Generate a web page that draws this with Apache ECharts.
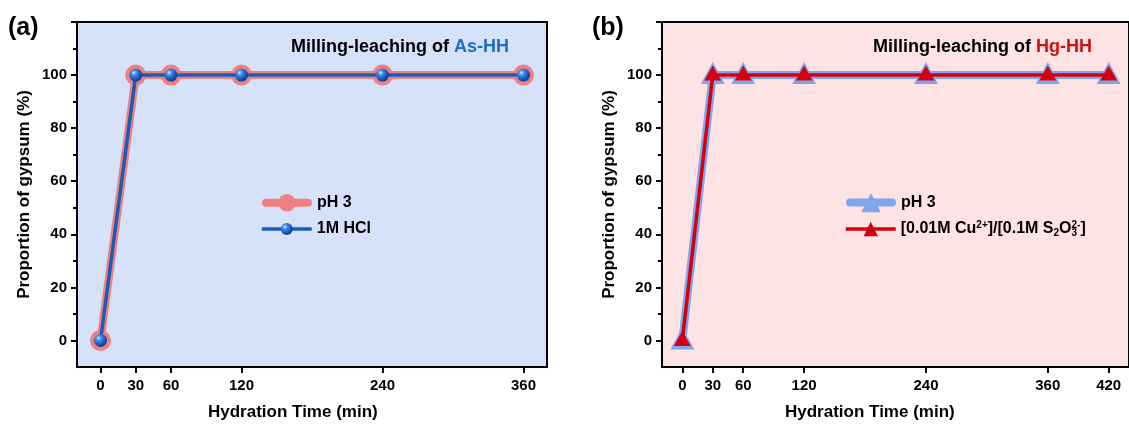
<!DOCTYPE html>
<html>
<head>
<meta charset="utf-8">
<script src="https://cdn.jsdelivr.net/npm/echarts@6/dist/echarts.min.js"></script>
<style>html,body{margin:0;padding:0;background:#fff}#c{width:1129px;height:428px}</style>
</head>
<body>
<div id="c"></div>
<script>
// ---- data ----
const timesA = [0, 30, 60, 120, 240, 360];
const pH3A = [0, 100, 100, 100, 100, 100];
const hclA = [0, 100, 100, 100, 100, 100];
const timesB = [0, 30, 60, 120, 240, 360, 420];
const pH3B = [0, 100, 100, 100, 100, 100, 100];
const cuB = [0, 100, 100, 100, 100, 100, 100];
const xTickLabelsA = [0, 30, 60, 120, 240, 360];
const xTickLabelsB = [0, 30, 60, 120, 240, 360, 420];
const yTickLabels = [0, 20, 40, 60, 80, 100];
const yMajorTicks = [0, 20, 40, 60, 80, 100, 120];
const yMinorTicks = [10, 30, 50, 70, 90, 110];

const FONT = '"Liberation Sans", Arial, sans-serif';
const pairs = (xs, ys) => xs.map((x, i) => [x, ys[i]]);

const sphere = {
  type: 'radial', x: 0.35, y: 0.32, r: 0.7,
  colorStops: [
    { offset: 0, color: '#e8f2ff' },
    { offset: 0.25, color: '#4f8fe8' },
    { offset: 0.7, color: '#1457c4' },
    { offset: 1, color: '#0a3c8c' }
  ]
};

function xAxis(gi, min, max, ticks) {
  return {
    type: 'value', gridIndex: gi, min: min, max: max,
    axisLine: { show: true, onZero: false, lineStyle: { color: '#000', width: 2 } },
    axisTick: { show: true, length: 6, lineStyle: { color: '#000', width: 2 }, customValues: ticks },
    axisLabel: { show: true, customValues: ticks, margin: 11, color: '#000', fontFamily: FONT, fontWeight: 'bold', fontSize: 15 },
    splitLine: { show: false }
  };
}
function yAxisMajor(gi) {
  return {
    type: 'value', gridIndex: gi, min: -10, max: 120, position: 'left',
    axisLine: { show: true, onZero: false, lineStyle: { color: '#000', width: 2 } },
    axisTick: { show: true, length: 6, lineStyle: { color: '#000', width: 2 }, customValues: yMajorTicks },
    axisLabel: { show: true, customValues: yTickLabels, margin: 10, color: '#000', fontFamily: FONT, fontWeight: 'bold', fontSize: 15 },
    splitLine: { show: false },
    name: 'Proportion of gypsum (%)', nameLocation: 'middle', nameRotate: 90, nameGap: 44,
    nameTextStyle: { color: '#000', fontFamily: FONT, fontWeight: 'bold', fontSize: 17 }
  };
}
function yAxisMinor(gi) {
  return {
    type: 'value', gridIndex: gi, min: -10, max: 120, position: 'left',
    axisLine: { show: false, onZero: false },
    axisTick: { show: true, length: 4, lineStyle: { color: '#000', width: 2 }, customValues: yMinorTicks },
    axisLabel: { show: false },
    splitLine: { show: false }
  };
}

const legendText = {
  color: '#000', fontFamily: FONT, fontWeight: 'bold', fontSize: 16,
  rich: {
    t: { color: '#000', fontFamily: FONT, fontWeight: 'bold', fontSize: 16 },
    sup: { color: '#000', fontFamily: FONT, fontWeight: 'bold', fontSize: 10, verticalAlign: 'top', padding: [0, 0, 8, 0] },
    sub: { color: '#000', fontFamily: FONT, fontWeight: 'bold', fontSize: 10, verticalAlign: 'bottom', padding: [8, 0, 0, 0] },
    sub0: { color: '#000', fontFamily: FONT, fontWeight: 'bold', fontSize: 10, verticalAlign: 'bottom', padding: [8, 0, 0, 0], width: 0 }
  }
};
const legendTextPad = Object.assign({}, legendText, { padding: [0, 0, 0, 4] });

const option = {
  backgroundColor: '#fff',
  animation: false,
  grid: [
    { left: 77, top: 22, width: 470, height: 345, show: true, backgroundColor: '#d6e2fa', borderColor: '#000', borderWidth: 2 },
    { left: 662, top: 22, width: 469, height: 345, show: true, backgroundColor: '#fde3e3', borderColor: '#000', borderWidth: 2 }
  ],
  xAxis: [xAxis(0, -20, 380, xTickLabelsA), xAxis(1, -20, 440, xTickLabelsB)],
  yAxis: [yAxisMajor(0), yAxisMinor(0), yAxisMajor(1), yAxisMinor(1)],
  title: [
    { text: '(a)', left: 8, top: 16, padding: 0, textStyle: { fontFamily: FONT, fontWeight: 'bold', fontSize: 25, color: '#000' } },
    { text: '(b)', left: 592, top: 16, padding: 0, textStyle: { fontFamily: FONT, fontWeight: 'bold', fontSize: 25, color: '#000' } },
    { text: '{k|Milling-leaching of }{b|As-HH}', left: 291, top: 38, padding: 0,
      textStyle: { rich: { k: { fontFamily: FONT, fontWeight: 'bold', fontSize: 18, color: '#000' }, b: { fontFamily: FONT, fontWeight: 'bold', fontSize: 18, color: '#1f6cc4' } } } },
    { text: '{k|Milling-leaching of }{b|Hg-HH}', left: 873, top: 38, padding: 0,
      textStyle: { rich: { k: { fontFamily: FONT, fontWeight: 'bold', fontSize: 18, color: '#000' }, b: { fontFamily: FONT, fontWeight: 'bold', fontSize: 18, color: '#cc1010' } } } },
    { text: 'Hydration Time (min)', left: 208, top: 404, padding: 0, textStyle: { fontFamily: FONT, fontWeight: 'bold', fontSize: 17, color: '#000' } },
    { text: 'Hydration Time (min)', left: 785, top: 404, padding: 0, textStyle: { fontFamily: FONT, fontWeight: 'bold', fontSize: 17, color: '#000' } }
  ],
  legend: [
    { data: ['pH 3 (a)'], left: 262, top: 194, itemWidth: 42, itemHeight: 22, itemGap: 0, padding: 0, textStyle: legendTextPad,
      lineStyle: { width: 8, cap: 'round' }, formatter: () => 'pH 3' },
    { data: ['1M HCl'], left: 260, top: 221, itemWidth: 50, itemHeight: 15, itemGap: 0, padding: 0, textStyle: legendText,
      lineStyle: { width: 3.5 } },
    { data: ['pH 3 (b)'], left: 846, top: 193, itemWidth: 42, itemHeight: 24, itemGap: 0, padding: 0, textStyle: legendTextPad,
      lineStyle: { width: 8, cap: 'round' }, formatter: () => 'pH 3' },
    { data: ['cu'], left: 844, top: 220, itemWidth: 50, itemHeight: 18, itemGap: 0, padding: 0, textStyle: legendText,
      lineStyle: { width: 3.5 }, formatter: () => '{t|[0.01M Cu}{sup|2+}{t|]/[0.1M S}{sub|2}{t|O}{sub0|3}{sup|2-}{t|]}' }
  ],
  series: [
    { name: 'pH 3 (a)', type: 'line', xAxisIndex: 0, yAxisIndex: 0, data: pairs(timesA, pH3A),
      symbol: 'circle', symbolSize: 21, lineStyle: { color: '#f08080', width: 8, cap: 'round' }, itemStyle: { color: '#f08080' }, z: 2 },
    { name: '1M HCl', type: 'line', xAxisIndex: 0, yAxisIndex: 0, data: pairs(timesA, hclA),
      symbol: 'circle', symbolSize: 13, lineStyle: { color: '#1a5cb8', width: 3.5 }, itemStyle: { color: sphere }, z: 3 },
    { name: 'pH 3 (b)', type: 'line', xAxisIndex: 1, yAxisIndex: 2, data: pairs(timesB, pH3B),
      symbol: 'triangle', symbolSize: [24, 22], symbolOffset: [0, -2], lineStyle: { color: '#7ea6ee', width: 8, cap: 'round' }, itemStyle: { color: '#7ea6ee' }, z: 2 },
    { name: 'cu', type: 'line', xAxisIndex: 1, yAxisIndex: 2, data: pairs(timesB, cuB),
      symbol: 'triangle', symbolSize: [17, 15], symbolOffset: [0, -2], lineStyle: { color: '#d40010', width: 3.5 }, itemStyle: { color: '#d40010' }, z: 3 }
  ]
};

const chart = echarts.init(document.getElementById('c'), null, { renderer: 'canvas' });
chart.setOption(option);
</script>
</body>
</html>
